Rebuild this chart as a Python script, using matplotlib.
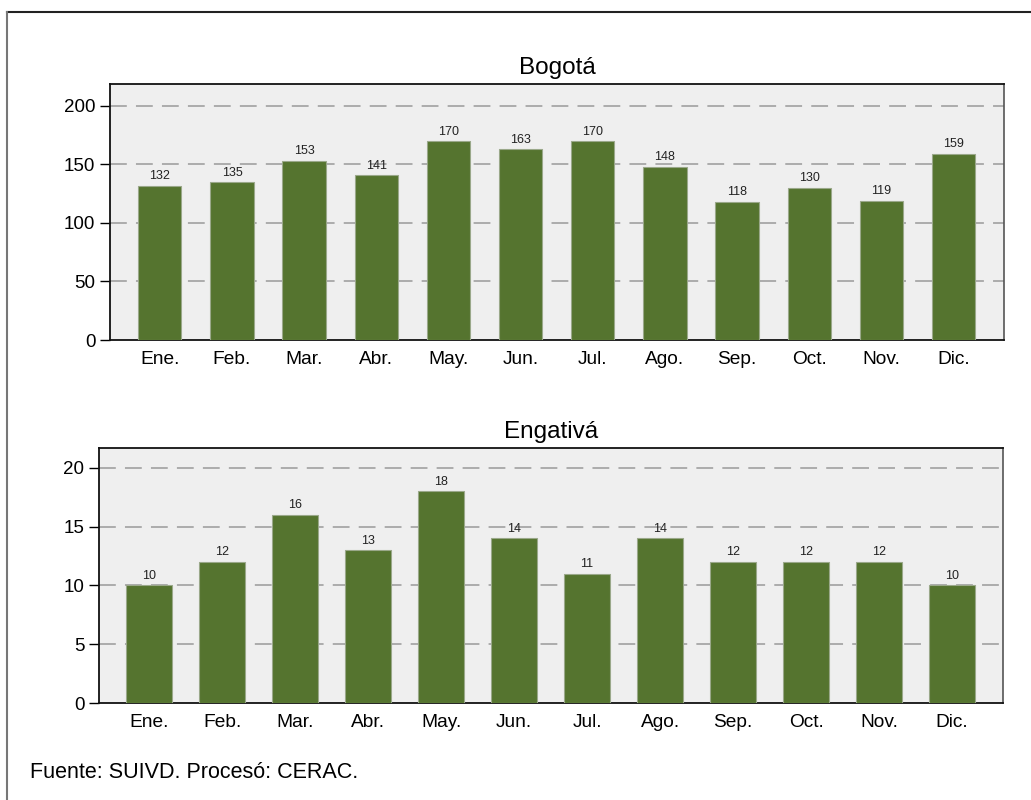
import matplotlib.pyplot as plt
from matplotlib.lines import Line2D

plt.rcParams['font.family'] = ['Liberation Sans', 'DejaVu Sans']

meses = ["Ene.", "Feb.", "Mar.", "Abr.", "May.", "Jun.",
         "Jul.", "Ago.", "Sep.", "Oct.", "Nov.", "Dic."]
bogota = [132, 135, 153, 141, 170, 163, 170, 148, 118, 130, 119, 159]
engativa = [10, 12, 16, 13, 18, 14, 11, 14, 12, 12, 12, 10]

bar_color = "#55742f"
bg = "#efefef"

fig = plt.figure(figsize=(10.31, 8), dpi=100)

# figure frame (only top and left visible in reference)
fig.add_artist(Line2D([7/1031, 1.0], [1 - 12/800, 1 - 12/800], transform=fig.transFigure,
                      color="#222222", lw=1.5))
fig.add_artist(Line2D([7/1031, 7/1031], [0.0, 1 - 12/800], transform=fig.transFigure,
                      color="#777777", lw=1.5))


def panel(rect, vals, title, ymax, yticks, bw, lab_off):
    ax = fig.add_axes(rect)
    ax.set_facecolor(bg)
    x = list(range(len(vals)))
    bars = ax.bar(x, vals, width=bw, color=bar_color, edgecolor="#9aa88a",
                  linewidth=0.8, zorder=3)
    for b, v in zip(bars, vals):
        ax.text(b.get_x() + b.get_width() / 2, v + lab_off, str(v),
                ha="center", va="bottom", fontsize=9, color="#222222", zorder=4)
    ax.set_xlim(-0.69, 11.7)
    ax.set_ylim(0, ymax)
    ax.set_yticks(yticks)
    for t in yticks[1:]:
        ax.axhline(t, color="#999999", lw=1.1, dashes=(11, 6), zorder=1)
    ax.set_xticks(x)
    ax.set_xticklabels(meses, fontsize=13.8)
    ax.tick_params(axis="x", length=0, pad=8)
    ax.tick_params(axis="y", length=7, width=1, labelsize=13.5, pad=3.5, direction="out")
    for s in ["left", "bottom", "top"]:
        ax.spines[s].set_color("#111111")
        ax.spines[s].set_linewidth(1.3)
    ax.spines["right"].set_color("#555555")
    ax.spines["right"].set_linewidth(1.2)
    ax.set_title(title, fontsize=17.5, pad=7)
    return ax


panel([110/1031, 1 - 340/800, 894/1031, 256/800], bogota, "Bogotá",
      218.8, [0, 50, 100, 150, 200], 0.6, 3)
panel([99/1031, 1 - 703/800, 904/1031, 255/800], engativa, "Engativá",
      21.7, [0, 5, 10, 15, 20], 0.63, 0.3)

fig.text(30/1031, 1 - 778/800, "Fuente: SUIVD. Procesó: CERAC.", fontsize=15.5,
         ha="left", va="baseline")

fig.savefig("out.png", dpi=100)
